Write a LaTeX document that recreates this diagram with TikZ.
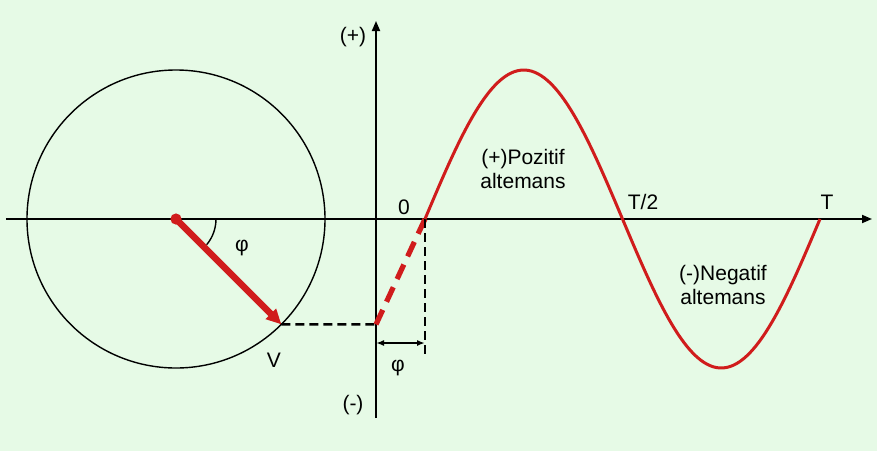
\documentclass[tikz,border=0pt]{standalone}
\usepackage{fontspec}
\setmainfont{Liberation Sans}
\usetikzlibrary{arrows.meta,calc}
\definecolor{bggreen}{RGB}{230,250,230}
\definecolor{wavered}{RGB}{208,28,28}
\tikzset{
  axis/.style={-{Triangle[length=5pt, width=4pt]}, line width=0.9pt},
  wave/.style={line width=1.5pt, color=wavered},
  phasor/.style={-{Triangle[length=7.5pt, width=7pt]}, line width=3.2pt, color=wavered},
  proj/.style={line width=2.6pt, color=wavered, dash pattern=on 8pt off 4.5pt},
  guide/.style={line width=1.3pt, dash pattern=on 4.5pt off 2.5pt},
  dim/.style={{Latex[length=4pt]}-{Latex[length=4pt]}, line width=0.8pt},
  lbl/.style={font=\fontsize{10.5}{12}\selectfont, inner sep=1pt}
}

\begin{document}
\begin{tikzpicture}[x=0.5pt, y=0.5pt]
\fill[bggreen] (-376,-232) rectangle (501,219);
\useasboundingbox (-376,-232) rectangle (501,219);
\coordinate (O) at (0,0);
\coordinate (xl) at (-370,0);
\coordinate (xr) at (496,0);
\coordinate (yb) at (0,-199);
\coordinate (yt) at (0,198);
\coordinate (C) at (-200,0);
\coordinate (V) at ($(C)+(-45:149)$);
\coordinate (Vy) at (0,-105.4);
\coordinate (z) at (49,0);
\coordinate (zb) at (49,-137);
\coordinate (dl) at (0,-124);
\coordinate (dr) at (49,-124);
\draw[axis] (xl) -- (xr);
\draw[axis] (yb) -- (yt);
\draw[line width=0.7pt] (C) circle[radius=74.5pt];
\draw[line width=0.7pt] ($(C)+(40,0)$) arc[start angle=0, end angle=-40, radius=20pt];
\fill[wavered] (C) circle[radius=2.8pt];
\draw[phasor] (C) -- (V);
\draw[guide] (V) -- (Vy);
\draw[proj] (Vy) -- (z);
\draw[guide] (z) -- (zb);
\draw[dim] (dl) -- (dr);
\draw[wave] plot[domain=49:444, samples=120, smooth] (\x, {149*sin((\x-49)/197.5*180)});
\node[lbl] (phi1) at (-134,-29) {φ};
\node[lbl] (vlab) at (-102,-141) {V};
\node[lbl] (plus) at (-23,182) {(+)};
\node[lbl] (minus) at (-23,-186) {(-)};
\node[lbl] (zero) at (28,12) {0};
\node[lbl] (half) at (267,17) {T/2};
\node[lbl] (full) at (451,17) {T};
\node[lbl] (phi2) at (22,-149) {φ};
\node[lbl, align=center] (pos) at (147,50) {(+)Pozitif\\altemans};
\node[lbl, align=center] (neg) at (347,-66) {(-)Negatif\\altemans};
\end{tikzpicture}
\end{document}
